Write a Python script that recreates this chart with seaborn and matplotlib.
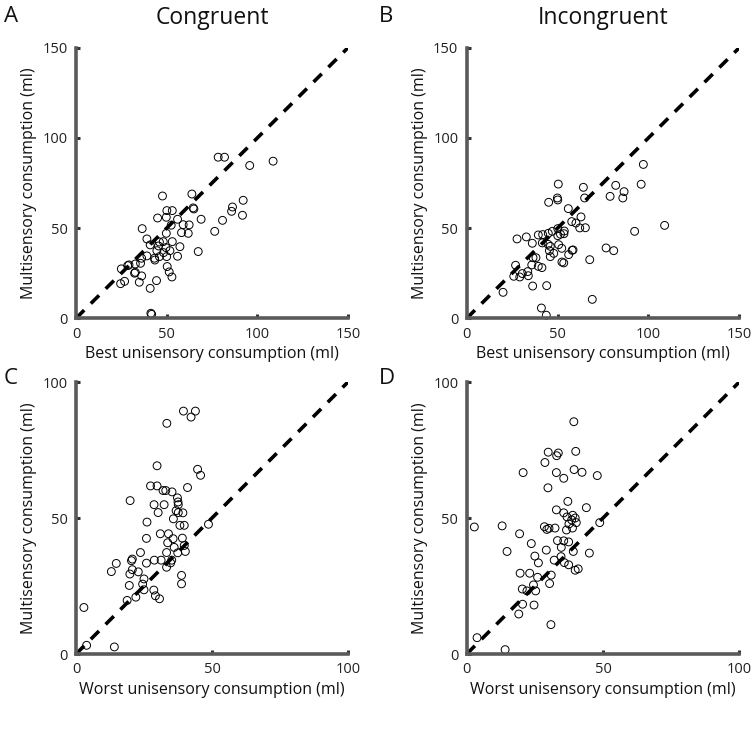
import matplotlib
matplotlib.use("Agg")
import matplotlib.pyplot as plt
import seaborn as sns
import pandas as pd

# Panel A: Congruent, best unisensory vs multisensory
a_x = [78.4, 81.9, 95.8, 108.7, 47.7, 63.9, 64.6, 65.0, 50.1, 53.1, 45.0, 49.8, 56.0, 52.5,
       59.1, 62.4, 58.2, 61.9, 69.0, 76.5, 80.8, 85.8, 86.3, 92.2, 91.8, 67.4, 36.5, 39.1,
       40.9, 49.8, 46.0, 48.1, 53.1, 45.5, 49.6, 57.3, 51.8, 44.6, 48.3, 43.3, 43.5, 46.0,
       50.0, 56.0, 39.1, 36.2, 35.6, 32.7, 29.2, 28.5, 25.0, 32.7, 32.3, 36.2, 50.3, 51.4,
       52.9, 44.4, 34.9, 26.8, 24.6, 40.9, 41.3, 41.7]
a_y = [89.3, 89.3, 84.7, 87.1, 67.8, 68.9, 61.2, 60.6, 59.7, 59.7, 55.6, 56.0, 54.9, 51.6,
       51.9, 51.8, 47.5, 47.1, 54.9, 48.2, 54.3, 59.3, 61.7, 65.4, 57.1, 37.0, 49.7, 44.0,
       40.7, 47.1, 42.3, 42.5, 42.5, 40.1, 39.2, 39.7, 37.5, 37.5, 36.4, 33.3, 32.3, 34.2,
       34.2, 34.4, 34.6, 33.3, 30.5, 30.1, 29.6, 29.2, 27.4, 25.5, 25.0, 23.5, 28.7, 25.7,
       22.9, 20.9, 20.0, 20.5, 19.2, 16.6, 2.8, 2.2]

# Panel B: Incongruent, best unisensory vs multisensory
b_x = [97.2, 96.0, 82.0, 86.6, 85.9, 78.9, 64.2, 64.9, 50.4, 49.9, 50.1, 45.1, 55.9, 62.9,
       57.8, 60.1, 62.2, 65.3, 50.1, 53.7, 53.5, 50.1, 51.6, 47.1, 44.9, 41.8, 39.4, 32.8,
       27.7, 36.1, 41.6, 44.8, 46.0, 50.6, 52.3, 58.0, 58.5, 56.1, 47.9, 45.5, 46.0, 52.4,
       53.4, 67.7, 76.7, 80.9, 92.4, 108.9, 69.1, 38.1, 36.5, 35.8, 39.4, 41.4, 26.9, 25.9,
       29.2, 30.6, 33.6, 33.9, 36.3, 44.0, 20.0, 41.1, 43.8]
b_y = [85.3, 74.3, 73.7, 70.2, 66.7, 67.6, 72.6, 66.7, 74.4, 66.7, 65.6, 64.3, 60.8, 56.2,
       53.6, 52.8, 50.1, 50.2, 49.7, 48.4, 46.9, 45.8, 46.6, 48.2, 47.1, 46.4, 46.2, 45.1,
       44.0, 41.6, 41.8, 41.0, 39.9, 40.8, 38.8, 37.7, 37.9, 35.3, 36.0, 37.5, 34.2, 31.2,
       30.7, 32.5, 39.0, 37.5, 48.2, 51.5, 10.5, 33.6, 33.6, 29.6, 28.8, 28.1, 29.4, 23.3,
       22.9, 24.8, 25.9, 23.6, 17.9, 18.1, 14.4, 5.7, 1.7]

# Panel C: Congruent, worst unisensory vs multisensory
c_x = [39.5, 43.9, 42.3, 33.4, 29.8, 44.7, 45.8, 27.4, 29.8, 32.0, 33.0, 35.3, 37.3, 37.5,
       37.6, 41.0, 19.9, 28.7, 32.4, 30.2, 36.8, 37.6, 39.3, 35.8, 26.1, 38.2, 39.8, 48.7,
       31.0, 34.0, 35.7, 39.1, 25.9, 33.7, 39.8, 36.1, 40.2, 33.3, 37.4, 23.7, 20.7, 20.4,
       14.8, 25.9, 28.8, 31.3, 35.2, 34.8, 33.3, 13.0, 20.7, 22.9, 19.8, 25.0, 38.8, 38.8,
       19.6, 24.5, 25.0, 28.6, 29.2, 30.7, 22.0, 18.8, 2.9, 3.9, 14.1]
c_y = [89.3, 89.3, 87.1, 84.8, 69.2, 67.9, 65.7, 61.8, 61.8, 60.1, 60.1, 59.6, 57.4, 55.9,
       54.9, 61.2, 56.4, 54.9, 54.9, 52.0, 52.7, 52.0, 51.9, 49.7, 48.5, 47.3, 47.3, 47.7,
       44.2, 44.2, 42.4, 42.6, 42.5, 40.9, 39.9, 39.2, 37.7, 37.3, 37.2, 37.3, 34.9, 34.3,
       33.3, 33.4, 34.5, 34.5, 34.5, 33.5, 31.9, 30.3, 31.0, 30.2, 29.4, 27.6, 28.9, 25.8,
       25.2, 25.7, 23.6, 23.5, 21.4, 20.3, 20.9, 19.7, 17.1, 3.2, 2.6]

# Panel D: Incongruent, worst unisensory vs multisensory
d_x = [39.3, 29.9, 33.6, 33.0, 40.0, 28.7, 39.4, 42.3, 32.9, 20.7, 47.9, 35.6, 29.8, 37.1,
       43.9, 32.9, 35.6, 36.8, 38.9, 39.8, 38.5, 40.2, 37.5, 38.8, 36.6, 48.8, 28.5, 29.4,
       30.2, 32.4, 13.0, 2.8, 19.4, 33.3, 35.6, 37.4, 34.7, 23.7, 14.8, 29.2, 39.1, 45.0,
       34.6, 32.1, 35.8, 37.4, 25.0, 26.3, 39.8, 40.9, 19.6, 23.1, 26.0, 31.0, 30.4, 20.4,
       22.1, 24.5, 25.3, 20.5, 24.7, 19.1, 30.9, 3.8, 14.1]
d_y = [85.4, 74.2, 73.9, 72.9, 74.5, 70.4, 67.8, 66.8, 66.7, 66.7, 65.6, 64.6, 61.1, 56.1,
       53.8, 53.0, 51.9, 50.4, 51.0, 50.0, 49.3, 48.3, 47.8, 46.3, 45.6, 48.3, 46.8, 45.8,
       46.2, 46.3, 47.1, 46.7, 44.2, 41.7, 41.6, 41.2, 39.2, 40.6, 37.7, 38.2, 37.7, 37.1,
       35.8, 34.5, 33.6, 32.8, 36.0, 33.5, 30.8, 31.3, 29.7, 29.7, 28.2, 29.0, 25.9, 23.9,
       23.2, 25.4, 23.2, 18.3, 18.0, 14.7, 10.8, 6.0, 1.6]

titles = ["Congruent", "Incongruent"]
letters = ["A", "B", "C", "D"]
xlabels = ["Best unisensory consumption (ml)", "Best unisensory consumption (ml)",
           "Worst unisensory consumption (ml)", "Worst unisensory consumption (ml)"]
ylabel = "Multisensory consumption (ml)"
limits = [150, 150, 100, 100]
ticks_top = [0, 50, 100, 150]
ticks_bot = [0, 50, 100]

sns.set_theme(style="white")
plt.rcParams['font.family'] = ['Open Sans', 'DejaVu Sans']

fig = plt.figure(figsize=(7.52, 7.31), dpi=100)
W, H = 752, 731
boxes = [(76, 47.7, 348, 318.3), (466.7, 47.7, 739.3, 318.3),
         (76, 382, 348, 654), (466.7, 382, 739.3, 654)]
data = [(a_x, a_y), (b_x, b_y), (c_x, c_y), (d_x, d_y)]
spine_col = "#5a5a5a"

for i, (box, (xs, ys)) in enumerate(zip(boxes, data)):
    l, t, r, b = box
    ax = fig.add_axes([l / W, 1 - b / H, (r - l) / W, (b - t) / H])
    lim = limits[i]
    df = pd.DataFrame({"x": xs, "y": ys})
    ax.plot([0, lim], [0, lim], color="black", lw=2.6, ls=(0, (3.2, 2.6)), zorder=1)
    sns.scatterplot(data=df, x="x", y="y", ax=ax, s=32, facecolor="none",
                    edgecolor="black", linewidth=0.7, zorder=2, clip_on=False)
    ax.set_xlim(0, lim)
    ax.set_ylim(0, lim)
    tk = ticks_top if lim == 150 else ticks_bot
    ax.set_xticks(tk)
    ax.set_yticks(tk)
    for s in ["top", "right"]:
        ax.spines[s].set_visible(False)
    for s in ["left", "bottom"]:
        ax.spines[s].set_color(spine_col)
        ax.spines[s].set_linewidth(2.6)
    ax.tick_params(axis="both", direction="in", length=3, width=2.2, color="#333333",
                   labelsize=10.5, labelcolor="#222222", pad=6,
                   bottom=True, left=True)
    ax.set_xlabel(xlabels[i], fontsize=11.5, color="#111111", labelpad=3)
    ax.set_ylabel(ylabel, fontsize=11.5, color="#111111", labelpad=4)
    ax.set_facecolor("white")
    ax.grid(False)
    if i < 2:
        fig.text((l + r) / 2 / W, 1 - 18 / H, titles[i], ha="center", va="center",
                 fontsize=16.5, color="#111111")
    lx = 4 if i % 2 == 0 else 379
    ly = 16 if i < 2 else 379
    fig.text(lx / W, 1 - ly / H, letters[i], ha="left", va="center",
             fontsize=16, color="#111111")

fig.savefig("out.png", dpi=100, facecolor="white")
